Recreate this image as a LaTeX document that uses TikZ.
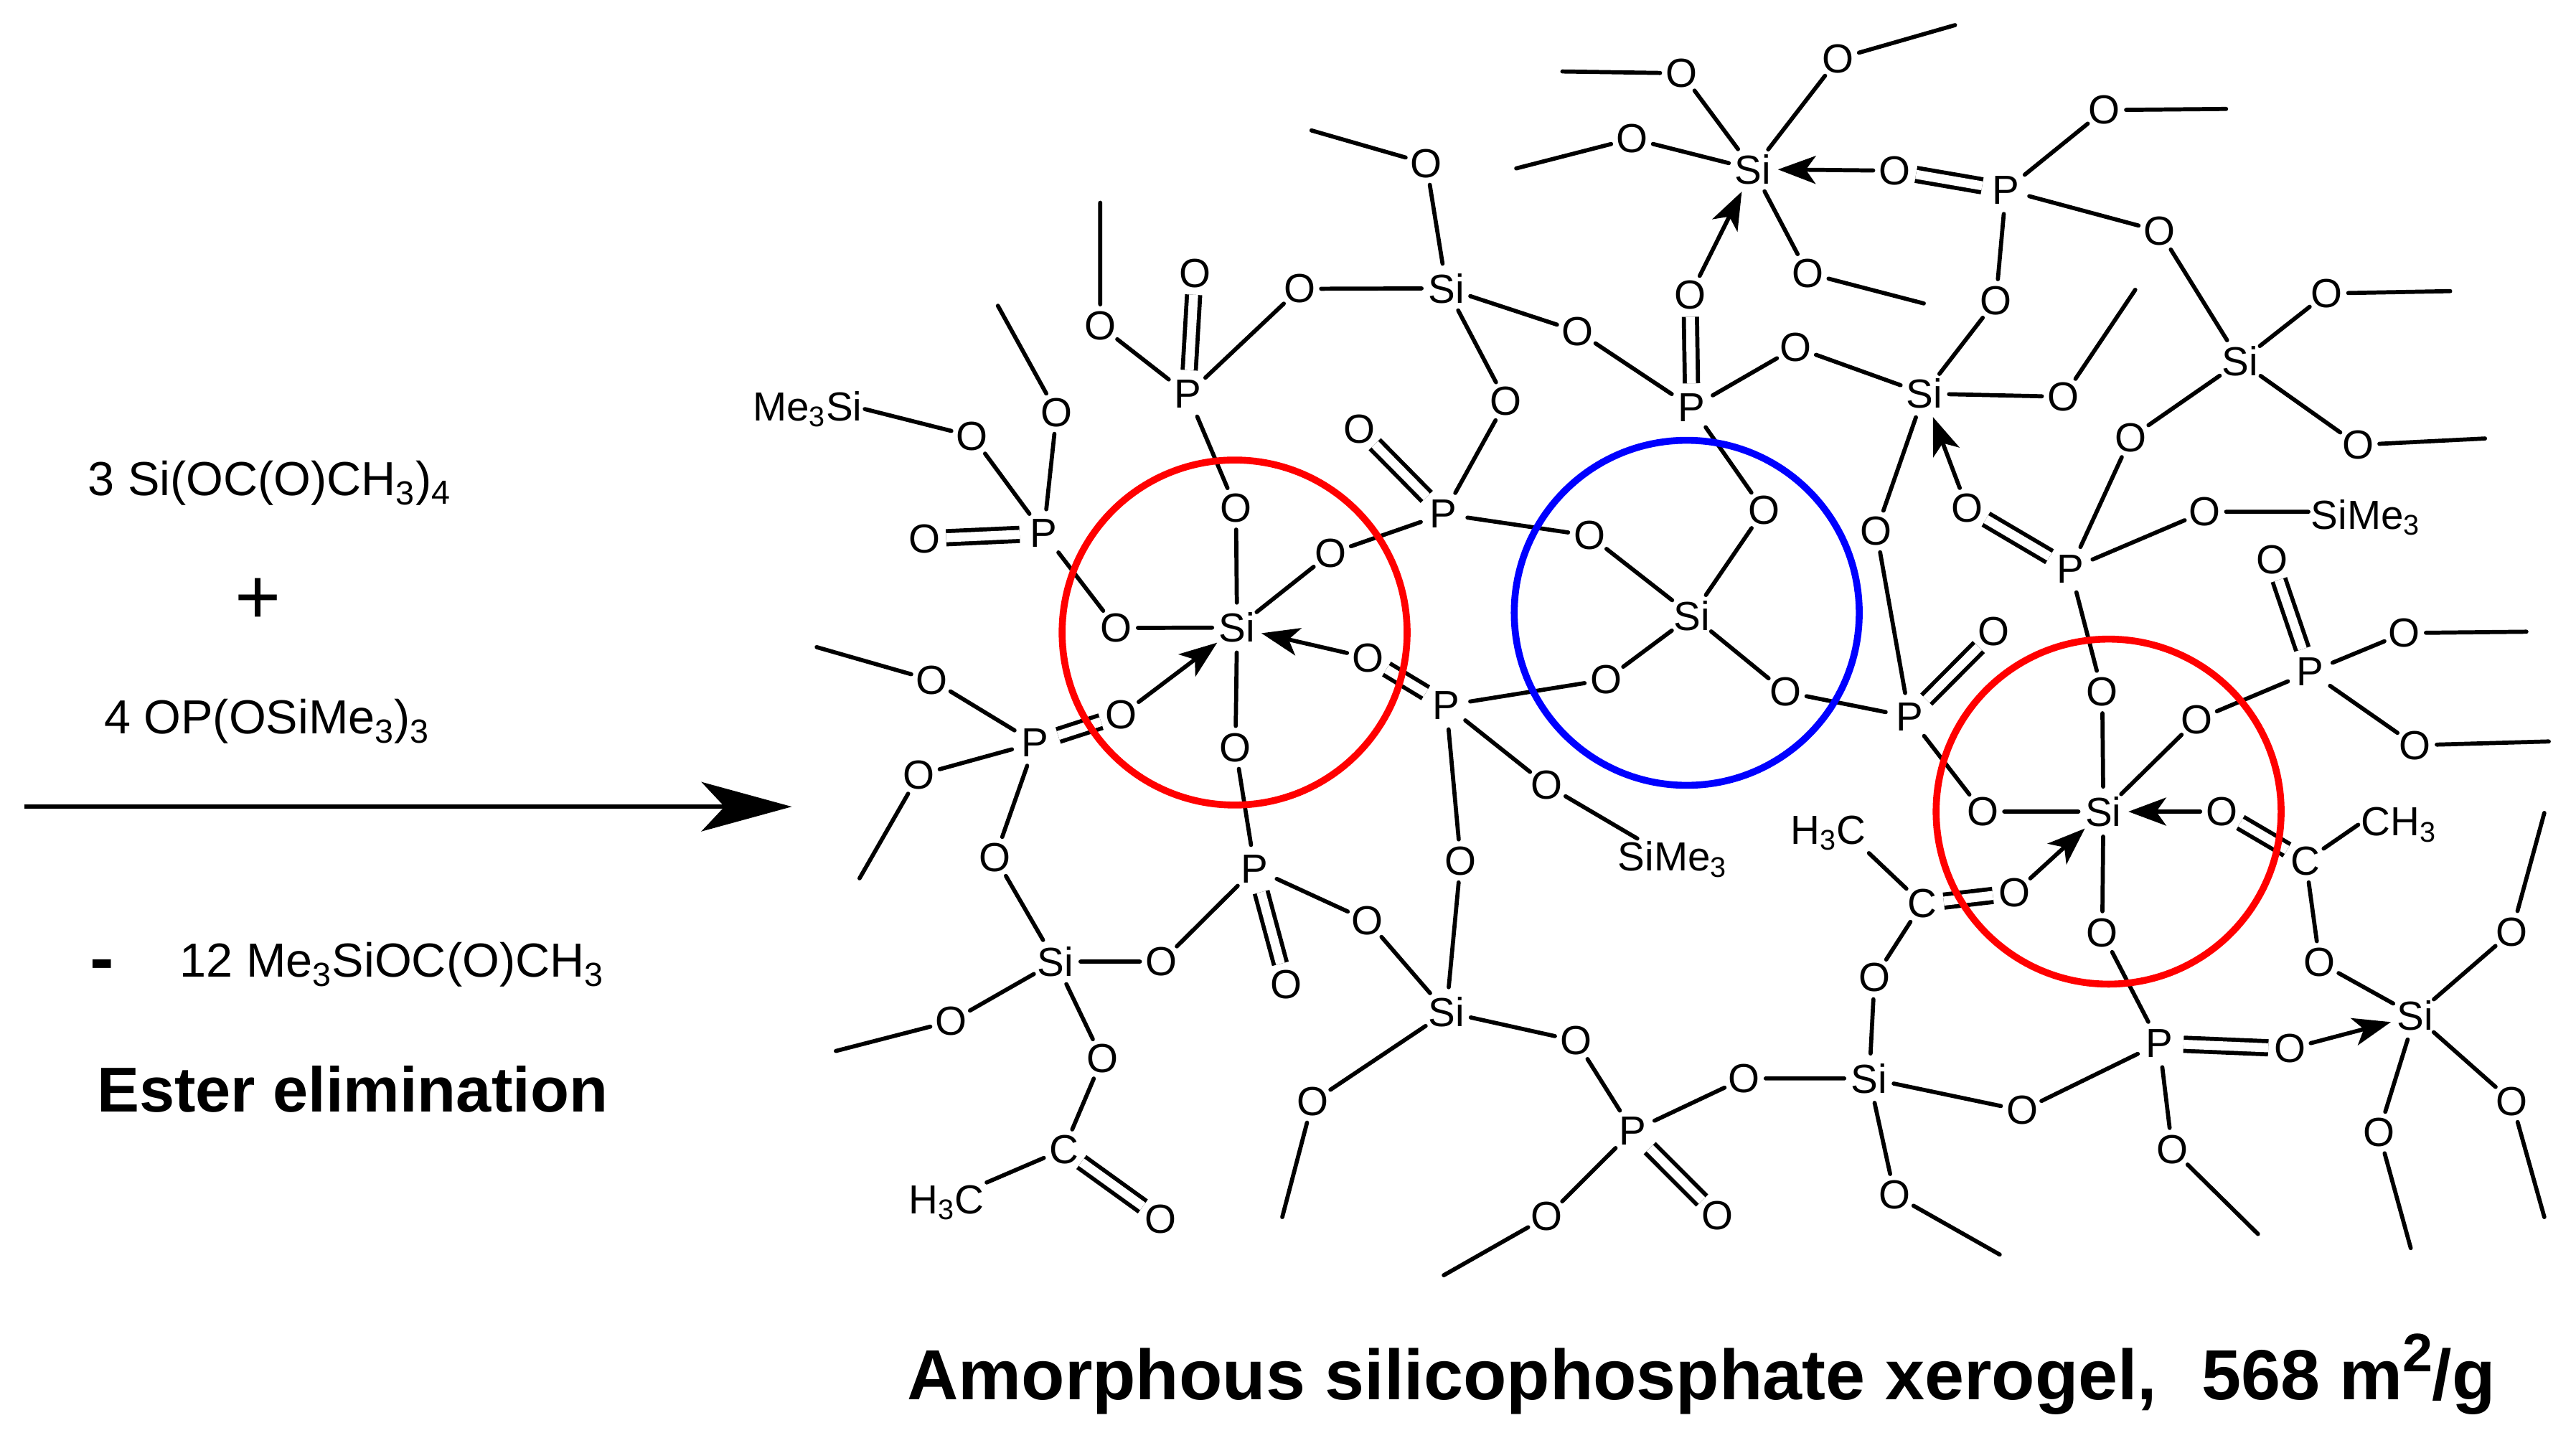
\documentclass[tikz,border=0pt]{standalone}
\usepackage{fontspec}
\setmainfont{Liberation Sans}
\usetikzlibrary{arrows.meta}
\tikzset{
  atomfont/.style={font=\fontsize{24.7}{28}\selectfont},
  atom/.style={atomfont,shape=circle,inner sep=0pt,text=black},
  ox/.style={atom,minimum size=25pt},
  sil/.style={atom,minimum size=30pt},
  phos/.style={atom,minimum size=29pt},
  carb/.style={atom,minimum size=26pt},
  grp/.style={atomfont,shape=rectangle,inner sep=1.5pt},
  reac/.style={font=\fontsize{29.1}{34}\selectfont,inner sep=0pt},
  bond/.style={line width=2.5pt,line cap=round},
  dbl/.style={line width=2.5pt,double,double distance=5.5pt},
  dative/.style={line width=2.5pt,line cap=round,-{Stealth[length=23pt,width=17pt,inset=6pt]}},
  ring/.style={line width=4.2pt,draw,circle,minimum size=210pt,inner sep=0pt},
}
\begin{document}
\begin{tikzpicture}[x=1pt,y=-1pt]
\useasboundingbox (0,0) rectangle (1568,872.2);
% reaction text
\node[reac] (r1) at (164,294) {3 Si(OC(O)CH\textsubscript{3})\textsubscript{4}};
\node[font=\fontsize{48}{56}\selectfont,inner sep=0pt] (r2) at (157,366) {+};
\node[reac] (r3) at (162.5,439) {4 OP(OSiMe\textsubscript{3})\textsubscript{3}};
\coordinate (as) at (15,491);
\coordinate (ae) at (482,491);
\draw[line width=2.5pt,-{Stealth[length=55pt,width=30pt,inset=14pt]}] (as) -- (ae);
\node[font=\bfseries\fontsize{44}{50}\selectfont,inner sep=0pt] (r4) at (62,591) {-};
\node[reac] (r5) at (238.5,587) {12 Me\textsubscript{3}SiOC(O)CH\textsubscript{3}};
\node[font=\bfseries\fontsize{38.6}{46}\selectfont,inner sep=0pt] (r6) at (214.5,663) {Ester elimination};
\node[font=\bfseries\fontsize{43.2}{50}\selectfont,inner sep=0pt,anchor=base west] (title) at (552,852) {Amorphous silicophosphate xerogel,\hspace{27pt}568 m\raisebox{17pt}{\fontsize{33}{33}\selectfont 2}\kern-0.5pt/g};

% silicon
\node[sil] (sA) at (1067,103) {Si};
\node[sil] (sC) at (1363.6,220) {Si};
\node[sil] (sD) at (1171.2,239.6) {Si};
\node[sil] (sG) at (880.5,175.5) {Si};
\node[sil] (sRa) at (753,382) {Si};
\node[sil] (sB) at (1029.8,374.7) {Si};
\node[sil] (sRb) at (1280.3,494) {Si};
\node[sil] (sN) at (880.4,616) {Si};
\node[sil] (sP) at (642.5,585.3) {Si};
\node[sil] (sT) at (1137.8,656.4) {Si};
\node[sil] (sW) at (1470,618.2) {Si};
% phosphorus
\node[phos] (pB) at (1221,115.6) {P};
\node[phos] (pC) at (1029.8,248) {P};
\node[phos] (pE) at (1260.2,346.3) {P};
\node[phos] (pF) at (1162.2,436.3) {P};
\node[phos] (pH) at (723,240) {P};
\node[phos] (pI) at (878.7,312.9) {P};
\node[phos] (pJ) at (635.3,324.6) {P};
\node[phos] (pK) at (880.4,429.3) {P};
\node[phos] (pL) at (630.1,452.2) {P};
\node[phos] (pM) at (763.8,528.8) {P};
\node[phos] (pS) at (993.8,688.4) {P};
\node[phos] (pV) at (1314.4,635) {P};
\node[phos] (pX) at (1406.2,409) {P};
% carbon
\node[carb] (cQ) at (647.5,699.6) {C};
\node[carb] (cU) at (1170,550) {C};
\node[carb] (cY) at (1403.5,524) {C};
% groups
\node[grp] (gA) at (491.5,249) {Me\textsubscript{3}Si};
\node[grp] (gB) at (1440,315) {SiMe\textsubscript{3}};
\node[grp] (gC) at (1018,523) {SiMe\textsubscript{3}};
\node[grp] (gD) at (576,732) {H\textsubscript{3}C};
\node[grp] (gE) at (1113,507) {H\textsubscript{3}C};
\node[grp] (gF) at (1460,502) {CH\textsubscript{3}};
% oxygen
\node[ox] (oAa) at (1023.6,44.6) {O};
\node[ox] (oAb) at (1118.9,35.7) {O};
\node[ox] (oAc) at (993.4,84.4) {O};
\node[ox] (oAd) at (1100.3,166.3) {O};
\node[ox] (oAe) at (1153.3,103.9) {O};
\node[ox] (oAf) at (1028.7,179.7) {O};
\node[ox] (oBa) at (1281,67) {O};
\node[ox] (oBb) at (1314.4,140.7) {O};
\node[ox] (oBc) at (1214.9,183) {O};
\node[ox] (oCa) at (1416.2,178.6) {O};
\node[ox] (oCb) at (1435.2,270.8) {O};
\node[ox] (oCc) at (1297,266.3) {O};
\node[ox] (oDa) at (1256,241.5) {O};
\node[ox] (oDb) at (1093,211.5) {O};
\node[ox] (oDc) at (1142.1,323.2) {O};
\node[ox] (oDd) at (1197.5,309.3) {O};
\node[ox] (oEa) at (1341.9,311.5) {O};
\node[ox] (oEb) at (1279.6,421) {O};
\node[ox] (oCd) at (960.2,201.7) {O};
\node[ox] (oCe) at (1073.6,310.6) {O};
\node[ox] (oFa) at (1213.7,384.5) {O};
\node[ox] (oGa) at (868.2,99.5) {O};
\node[ox] (oGb) at (791,175.8) {O};
\node[ox] (oGc) at (916.7,244.3) {O};
\node[ox] (oHa) at (727.3,166.3) {O};
\node[ox] (oHb) at (669.7,198.4) {O};
\node[ox] (oHc) at (752.3,309.2) {O};
\node[ox] (oRa) at (679.5,382.2) {O};
\node[ox] (oRb) at (809.9,336.8) {O};
\node[ox] (oRc) at (832.7,400.4) {O};
\node[ox] (oRd) at (682.6,435.2) {O};
\node[ox] (oRe) at (752,455) {O};
\node[ox] (oIa) at (827.6,261) {O};
\node[ox] (oIb) at (967.5,326) {O};
\node[ox] (oJa) at (562.8,327.9) {O};
\node[ox] (oJb) at (591.8,265.5) {O};
\node[ox] (oJc) at (643.2,251) {O};
\node[ox] (oSa) at (977.5,413.7) {O};
\node[ox] (oSb) at (1086.7,421.2) {O};
\node[ox] (oKa) at (941.6,478) {O};
\node[ox] (oKb) at (889.1,524) {O};
\node[ox] (oLa) at (567.3,414) {O};
\node[ox] (oLb) at (559.3,471.7) {O};
\node[ox] (oLc) at (605.7,521.8) {O};
\node[ox] (oPa) at (707,585.3) {O};
\node[ox] (oPb) at (579,621.6) {O};
\node[ox] (oPc) at (670.9,644.4) {O};
\node[ox] (oQa) at (706.3,742) {O};
\node[ox] (oMa) at (782.8,599.3) {O};
\node[ox] (oMb) at (832.3,560.3) {O};
\node[ox] (oNa) at (959.3,633.5) {O};
\node[ox] (oNb) at (798.9,670.6) {O};
\node[ox] (oSc) at (1045.3,740) {O};
\node[ox] (oSd) at (1061.6,656.4) {O};
\node[ox] (oSe) at (941.6,740.5) {O};
\node[ox] (oTa) at (1141,595.1) {O};
\node[ox] (oTb) at (1230.8,675.9) {O};
\node[ox] (oTc) at (1153.3,727.4) {O};
\node[ox] (oUa) at (1226.1,543.5) {O};
\node[ox] (oVa) at (1393.8,638.3) {O};
\node[ox] (oVb) at (1322.2,699.6) {O};
\node[ox] (oVc) at (1279.6,567.8) {O};
\node[ox] (oXa) at (1337.3,438) {O};
\node[ox] (oXb) at (1206.8,494) {O};
\node[ox] (oXc) at (1352.4,494) {O};
\node[ox] (oXd) at (1382.9,340.5) {O};
\node[ox] (oXe) at (1463.5,385.3) {O};
\node[ox] (oXf) at (1470.1,453.6) {O};
\node[ox] (oYa) at (1412,585.9) {O};
\node[ox] (oWa) at (1528.9,567.2) {O};
\node[ox] (oWb) at (1528.9,670.3) {O};
\node[ox] (oWc) at (1448,689.3) {O};
% free chain ends
\coordinate (fa) at (951,43.5);
\coordinate (fb) at (1190,15.3);
\coordinate (fc) at (922.9,102.5);
\coordinate (fd) at (1171,184.7);
\coordinate (fe) at (1355,66.3);
\coordinate (ff) at (1491.4,177.2);
\coordinate (fg) at (1512.6,266.9);
\coordinate (fh) at (1299.7,176.4);
\coordinate (fi) at (798.3,79.4);
\coordinate (fj) at (669.7,123.4);
\coordinate (fk) at (607.4,186.1);
\coordinate (fl) at (497.1,393.9);
\coordinate (fm) at (523.2,534.6);
\coordinate (fn) at (508.8,639.7);
\coordinate (fo) at (780.5,740.8);
\coordinate (fp) at (878.8,776.2);
\coordinate (fq) at (1217.2,763.6);
\coordinate (fr) at (1374.4,751.1);
\coordinate (fs) at (1537.8,384.5);
\coordinate (ft) at (1551.4,451.3);
\coordinate (fu) at (1548.7,494.8);
\coordinate (fv) at (1548.7,740.8);
\coordinate (fw) at (1467.4,759.7);
% single bonds
\draw[bond]
 (oAa)--(sA) (oAa)--(fa) (oAb)--(sA) (oAb)--(fb) (oAc)--(sA) (oAc)--(fc) (oAd)--(sA) (oAd)--(fd)
 (pB)--(oBa) (oBa)--(fe) (pB)--(oBb) (oBb)--(sC) (pB)--(oBc) (oBc)--(sD)
 (sC)--(oCa) (oCa)--(ff) (sC)--(oCb) (oCb)--(fg) (sC)--(oCc) (oCc)--(pE)
 (sD)--(oDa) (oDa)--(fh) (sD)--(oDb) (oDb)--(pC) (sD)--(oDc) (oDc)--(pF)
 (pE)--(oEa) (oEa)--(oEa -| gB.west) (pE)--(oEb) (oEb)--(sRb)
 (pC)--(oCd) (oCd)--(sG) (pC)--(oCe) (oCe)--(sB)
 (sG)--(oGa) (oGa)--(fi) (sG)--(oGb) (oGb)--(pH) (sG)--(oGc) (oGc)--(pI)
 (pH)--(oHb) (oHb)--(fj) (pH)--(oHc) (oHc)--(sRa)
 (sRa)--(oRa) (oRa)--(pJ) (sRa)--(oRb) (oRb)--(pI) (sRa)--(oRe) (oRe)--(pM)
 (pI)--(oIb) (oIb)--(sB)
 (pJ)--(oJb) (oJb)--(gA.east) (pJ)--(oJc) (oJc)--(fk)
 (sB)--(oSa) (oSa)--(pK) (sB)--(oSb) (oSb)--(pF)
 (pK)--(oKa) (oKa)--(gC) (pK)--(oKb) (oKb)--(sN)
 (pL)--(oLa) (oLa)--(fl) (pL)--(oLb) (oLb)--(fm) (pL)--(oLc) (oLc)--(sP)
 (sP)--(oPa) (oPa)--(pM) (sP)--(oPb) (oPb)--(fn) (sP)--(oPc) (oPc)--(cQ)
 (cQ)--(gD.north east)
 (pM)--(oMb) (oMb)--(sN)
 (sN)--(oNa) (oNa)--(pS) (sN)--(oNb) (oNb)--(fo)
 (pS)--(oSd) (oSd)--(sT) (pS)--(oSe) (oSe)--(fp)
 (sT)--(oTa) (oTa)--(cU) (sT)--(oTb) (oTb)--(pV) (sT)--(oTc) (oTc)--(fq)
 (cU)--(gE.south east)
 (pV)--(oVb) (oVb)--(fr) (pV)--(oVc) (oVc)--(sRb)
 (sRb)--(oXa) (oXa)--(pX) (sRb)--(oXb) (oXb)--(pF)
 (pX)--(oXe) (oXe)--(fs) (pX)--(oXf) (oXf)--(ft)
 (cY)--(gF.west) (cY)--(oYa) (oYa)--(sW)
 (sW)--(oWa) (oWa)--(fu) (sW)--(oWb) (oWb)--(fv) (sW)--(oWc) (oWc)--(fw);
% double bonds
\draw[dbl] (oAe)--(pB);
\draw[dbl] (oAf)--(pC);
\draw[dbl] (oDd)--(pE);
\draw[dbl] (oFa)--(pF);
\draw[dbl] (oHa)--(pH);
\draw[dbl] (oRc)--(pK);
\draw[dbl] (oRd)--(pL);
\draw[dbl] (oIa)--(pI);
\draw[dbl] (oJa)--(pJ);
\draw[dbl] (oQa)--(cQ);
\draw[dbl] (oMa)--(pM);
\draw[dbl] (oSc)--(pS);
\draw[dbl] (oUa)--(cU);
\draw[dbl] (oVa)--(pV);
\draw[dbl] (oXc)--(cY);
\draw[dbl] (oXd)--(pX);
% dative bonds
\draw[dative] (oAe)--(sA);
\draw[dative] (oAf)--(sA);
\draw[dative] (oDd)--(sD);
\draw[dative] (oRc)--(sRa);
\draw[dative] (oRd)--(sRa);
\draw[dative] (oUa)--(sRb);
\draw[dative] (oXc)--(sRb);
\draw[dative] (oVa)--(sW);
% rings
\node[ring,draw=red] (ra) at (751.5,385) {};
\node[ring,draw=blue] (rb) at (1026.7,373) {};
\node[ring,draw=red] (rc) at (1283.5,494) {};
\end{tikzpicture}
\end{document}
